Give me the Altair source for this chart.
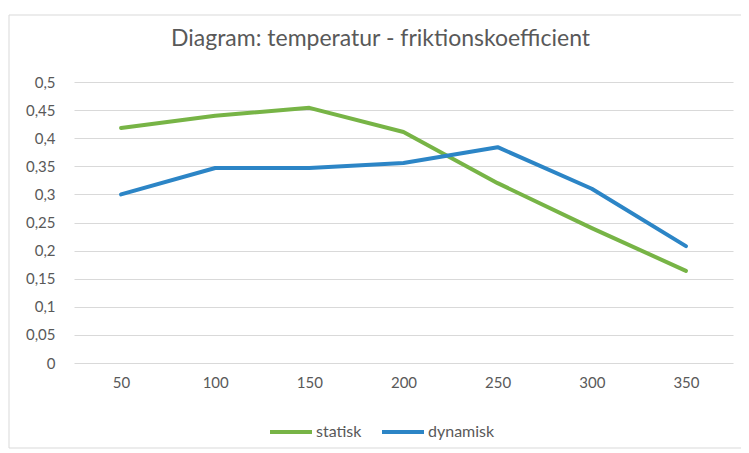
import altair as alt
import pandas as pd

temperatures = ["50", "100", "150", "200", "250", "300", "350"]
statisk = [0.418, 0.440, 0.454, 0.411, 0.320, 0.240, 0.164]
dynamisk = [0.300, 0.347, 0.347, 0.356, 0.384, 0.310, 0.208]
series_names = ["statisk", "dynamisk"]
colors = ["#77B446", "#2C85C6"]
y_ticks = [0, 0.05, 0.1, 0.15, 0.2, 0.25, 0.3, 0.35, 0.4, 0.45, 0.5]

rows = []
for t, s, d in zip(temperatures, statisk, dynamisk):
    rows.append({"temperatur": t, "serie": "statisk", "värde": s})
    rows.append({"temperatur": t, "serie": "dynamisk", "värde": d})
df = pd.DataFrame(rows)

FONT = "Lato"
GREY = "#595959"

lines = alt.Chart(df).mark_line(strokeWidth=4, strokeCap="round", strokeJoin="round").encode(
    x=alt.X("temperatur:O", sort=temperatures,
            scale=alt.Scale(type="point", padding=0.5),
            axis=alt.Axis(title=None, labelAngle=0, ticks=False, domain=False, grid=False,
                          labelPadding=12, labelFont=FONT, labelFontSize=15, labelColor=GREY)),
    y=alt.Y("värde:Q", scale=alt.Scale(domain=[0, 0.5], nice=False),
            axis=alt.Axis(title=None, values=y_ticks, ticks=False, domain=False,
                          gridColor="#D9D9D9", gridWidth=1, labelPadding=19,
                          labelFont=FONT, labelFontSize=15, labelColor=GREY,
                          labelExpr="replace(format(datum.value, '.2~f'), '.', ',')")),
    color=alt.Color("serie:N", sort=series_names,
                    scale=alt.Scale(domain=series_names, range=colors),
                    legend=alt.Legend(title=None, orient="none", direction="horizontal",
                                      legendX=194, legendY=327, symbolType="stroke",
                                      symbolSize=1764, symbolStrokeWidth=4, labelOffset=2,
                                      columnPadding=12, labelFont=FONT, labelFontSize=16,
                                      labelColor=GREY)),
    detail="serie:N",
)

border = alt.Chart(pd.DataFrame({"b": [0]})).mark_rect(fill=None, stroke="#D9D9D9", strokeWidth=1).encode(
    x=alt.value(-65), x2=alt.value(671), y=alt.value(-67), y2=alt.value(366)
)

chart = alt.layer(border, lines).properties(
    width=659, height=281,
    autosize=alt.AutoSizeParams(type="none"),
    padding={"left": 66, "top": 74, "right": 8, "bottom": 90},
    title=alt.TitleParams("Diagram: temperatur  - friktionskoefficient", font=FONT, fontSize=23,
                          fontWeight="normal", color=GREY, anchor="middle", dx=-23, offset=-36),
).configure_view(stroke=None)

chart.save("out.html", embed_options={"renderer": "svg", "actions": False})
